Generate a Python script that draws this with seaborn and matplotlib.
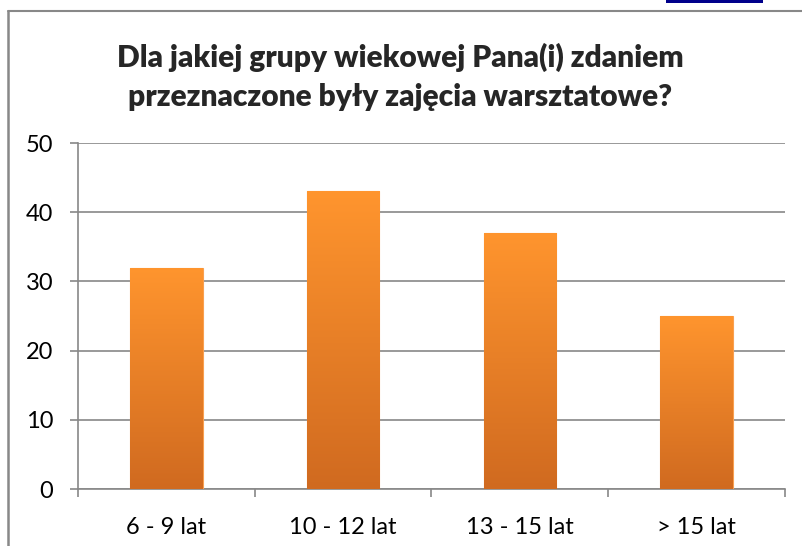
import numpy as np
import pandas as pd
import matplotlib
matplotlib.use("Agg")
import matplotlib.pyplot as plt
from matplotlib.lines import Line2D
from matplotlib.patches import Rectangle
import seaborn as sns

categories = ["6 - 9 lat", "10 - 12 lat", "13 - 15 lat", "> 15 lat"]
values = [32, 43, 37, 25]
title = "Dla jakiej grupy wiekowej Pana(i) zdaniem\nprzeznaczone były zajęcia warsztatowe?"

sns.set_theme(style="white")
plt.rcParams["font.family"] = ["Lato", "DejaVu Sans"]

df = pd.DataFrame({"group": categories, "count": values})

fig = plt.figure(figsize=(8.03, 5.46), dpi=100)
ax = fig.add_axes([78 / 803, 1 - 489 / 546, 707 / 803, 346 / 546])

sns.barplot(data=df, x="group", y="count", color="#F7901E", width=0.41, ax=ax, zorder=3)

# orange vertical gradient inside each bar
grad = np.linspace(0, 1, 256).reshape(-1, 1)
cmap = matplotlib.colors.LinearSegmentedColormap.from_list("og", ["#D06A20", "#FF952E"])
for p in ax.patches:
    x0, y0 = p.get_x(), p.get_y()
    w, h = p.get_width(), p.get_height()
    im = ax.imshow(grad, cmap=cmap, origin="lower", aspect="auto",
                   extent=[x0, x0 + w, y0, y0 + h], zorder=4)
    im.set_clip_path(p)
    p.set_edgecolor("#F9A050")
    p.set_linewidth(0.8)

ax.set_xlim(-0.5, 3.5)
ax.set_ylim(0, 50)
ax.set_yticks(range(0, 51, 10))
ax.yaxis.grid(True, color="#888888", linewidth=1.2, zorder=0)
ax.set_axisbelow(True)
ax.set_xlabel("")
ax.set_ylabel("")

ax.set_xticks(range(4))
ax.set_xticklabels(categories)
ax.set_xticks(np.arange(-0.5, 4, 1), minor=True)
ax.tick_params(axis="x", which="major", length=0, pad=20, labelsize=17, colors="black")
ax.tick_params(axis="x", which="minor", length=5.8, width=1.2, color="#888888", direction="out", bottom=True)
ax.tick_params(axis="y", length=5.8, width=1.2, color="#888888", direction="out", left=True,
               labelsize=17, pad=12, colors="black")

for s in ["top", "right"]:
    ax.spines[s].set_visible(False)
for s in ["left", "bottom"]:
    ax.spines[s].set_color("#888888")
    ax.spines[s].set_linewidth(1.2)

fig.text(400 / 803, 1 - 77 / 546, title, ha="center", va="center",
         fontsize=21.5, fontweight="heavy", linespacing=1.45)

# chart frame (cropped screenshot) and the blue strip on top
fig.add_artist(Line2D([8 / 803, 1], [1 - 11 / 546, 1 - 11 / 546], color="#888888", linewidth=1.5))
fig.add_artist(Line2D([8 / 803, 8 / 803], [0, 1 - 11 / 546], color="#888888", linewidth=1.8))
fig.add_artist(Rectangle((666 / 803, 1 - 3 / 546), 97 / 803, 3 / 546, transform=fig.transFigure,
                         color="#00008B", linewidth=0))

fig.savefig("out.png", dpi=100)
